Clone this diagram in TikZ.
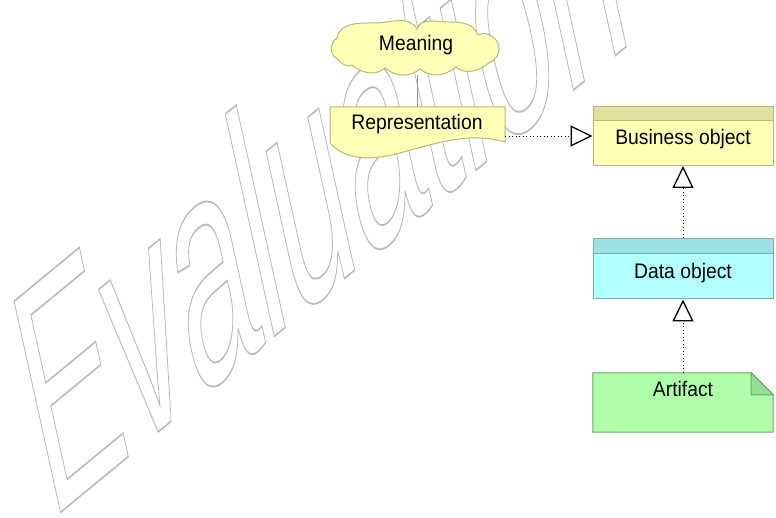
\documentclass[tikz,border=0pt]{standalone}
\usepackage{fontspec}
\setmainfont{Liberation Sans}[FakeStretch=0.92]
\newfontfamily\wmfont{Liberation Sans}
\usetikzlibrary{arrows.meta}
\definecolor{bizfill}{RGB}{255,255,181}
\definecolor{bizhead}{RGB}{225,225,158}
\definecolor{bizline}{RGB}{184,184,120}
\definecolor{datafill}{RGB}{178,255,255}
\definecolor{datahead}{RGB}{156,226,226}
\definecolor{dataline}{RGB}{120,175,175}
\definecolor{artfill}{RGB}{175,255,170}
\definecolor{artfold}{RGB}{150,222,148}
\definecolor{artline}{RGB}{110,165,110}
\definecolor{wmgray}{RGB}{185,185,185}
\definecolor{assoc}{RGB}{150,150,150}
\begin{document}
\begin{tikzpicture}[x=1pt,y=1pt,
  objbox/.style={rectangle, draw=#1line, fill=#1fill, line width=1pt,
    minimum width=180pt, minimum height=59pt, inner sep=0pt,
    path picture={\fill[#1head] (path picture bounding box.north west) rectangle ([yshift=-14.5pt]path picture bounding box.north east);
      \draw[#1line, line width=1pt] ([yshift=-14.5pt]path picture bounding box.north west) -- ([yshift=-14.5pt]path picture bounding box.north east);}},
  ghost/.style={rectangle, draw=none, fill=none, inner sep=0pt},
  lbl/.style={inner sep=0pt, font=\fontsize{21}{25}\selectfont, text=black},
  bizshape/.style={draw=bizline, fill=bizfill, line width=1pt},
  realize/.style={draw=black, line width=0.9pt, dash pattern=on 1.2pt off 2.3pt,
    -{Triangle[open, length=22pt, width=21pt, line width=1.3pt]}},
  assocline/.style={draw=assoc, line width=0.8pt}]
\clip (0,0) rectangle (776,-518);
\fill[white] (0,0) rectangle (776,-518);

% watermark
\begin{scope}[shift={(50,-521)}, cm={1.251,1.030,-0.675,3.068,(0,0)}]
\node[transform shape, anchor=base west, inner sep=0pt, text=wmgray] (wm) at (0,0)
  {\wmfont\fontsize{100}{120}\selectfont\special{pdf:literal direct 0.55 w 1 Tr}Evaluation\special{pdf:literal direct 0 Tr}};
\end{scope}

% Meaning (cloud)
\path[bizshape] (336,-58) to[out=150,in=210] (337,-38)
  to[out=80,in=180] (375,-23) to[out=0,in=120] (417,-29)
  to[out=70,in=180] (448,-22) to[out=0,in=110] (478,-35)
  to[out=30,in=90] (499,-48) to[out=-90,in=20] (490,-62)
  to[out=-140,in=-40] (456,-67)
  to[out=-140,in=-40] (420,-69)
  to[out=-140,in=-40] (385,-68)
  to[out=-140,in=-40] (352,-65)
  to[out=-150,in=-40] (336,-58) -- cycle;
\node[ghost, minimum width=166pt, minimum height=52pt] (mean) at (417,-49) {};
\node[lbl, anchor=base] (meal) at (416,-51) {Meaning};

% Representation
\path[bizshape] (330,-107) -- (505,-107) -- (505,-142)
  .. controls (470,-132) and (440,-142) .. (400,-153)
  .. controls (370,-161) and (345,-160) .. (330,-143) -- cycle;
\node[ghost, minimum width=175pt, minimum height=50pt] (rep) at (417.5,-132) {};
\node[lbl, anchor=base] (repl) at (417,-130) {Representation};

% Business object
\node[objbox=biz] (bo) at (683,-136) {};
\node[lbl, anchor=base] (bol) at (683,-145) {Business object};

% Data object
\node[objbox=data, minimum height=60pt] (do) at (683,-269) {};
\node[lbl, anchor=base] (dol) at (683,-279) {Data object};

% Artifact
\node[ghost, minimum width=180pt, minimum height=59pt] (art) at (683,-402.5) {};
\path[draw=artline, fill=artfill, line width=1pt] (art.north west) -- ([xshift=-22pt]art.north east)
  -- ([yshift=-22pt]art.north east) -- (art.south east) -- (art.south west) -- cycle;
\path[draw=artline, fill=artfold, line width=1pt] ([xshift=-22pt]art.north east)
  -- ([xshift=-22pt,yshift=-22pt]art.north east) -- ([yshift=-22pt]art.north east) -- cycle;
\node[lbl, anchor=base] (artl) at (683,-396.5) {Artifact};

% connectors
\draw[assocline] (mean.south) -- (mean.south |- rep.north);
\draw[realize] (rep.east |- bo.west) -- (bo.west);
\draw[realize] (do.north) -- (bo.south);
\draw[realize] (art.north) -- (do.south);
\end{tikzpicture}
\end{document}
